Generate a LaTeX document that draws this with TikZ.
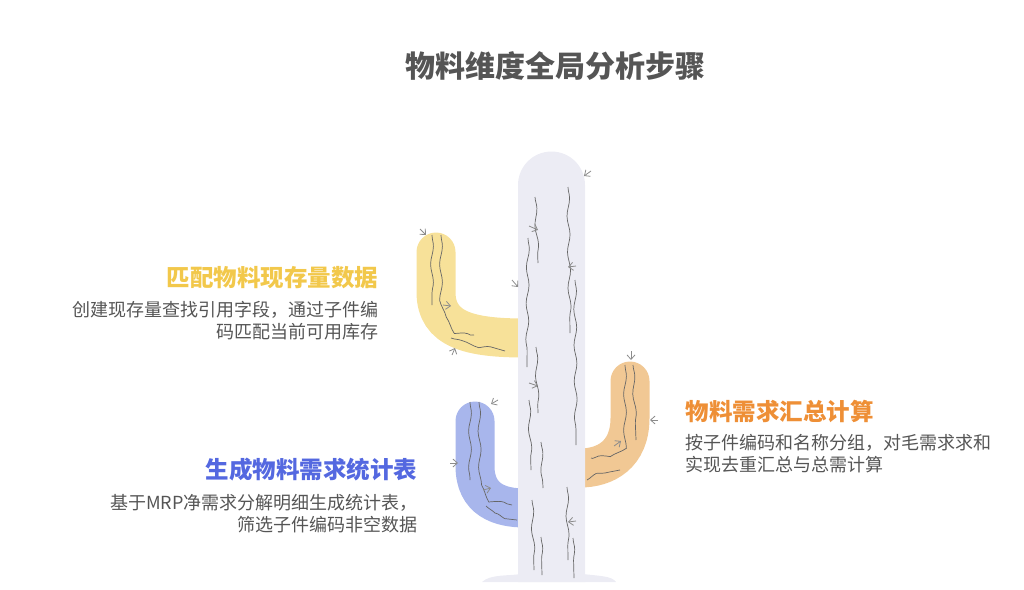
\documentclass[tikz,border=0pt]{standalone}
\usepackage{fontspec}
\setmainfont{Noto Sans CJK SC}
\usetikzlibrary{decorations.pathmorphing,arrows.meta}
\definecolor{cyel}{HTML}{F7E199}
\definecolor{cblu}{HTML}{A8B6EC}
\definecolor{cora}{HTML}{F1C894}
\definecolor{ctru}{HTML}{ECECF4}
\definecolor{tyel}{HTML}{F2C84B}
\definecolor{tblu}{HTML}{5468E0}
\definecolor{tora}{HTML}{EE8F36}
\definecolor{tgray}{HTML}{555555}
\begin{document}
\begin{tikzpicture}[x=1pt,y=-1pt,
  vein/.style={draw=gray!80!black,line width=0.7pt,decorate,decoration={snake,segment length=36pt,amplitude=1.4pt}},
  spike/.style={draw=gray!90,line width=0.8pt,-{Straight Barb[length=4.5pt,width=8pt]}},
  arm/.style={line width=39pt,line cap=round},
  ttl/.style={font=\fontsize{30}{34}\selectfont\bfseries,text=tgray},
  head/.style={font=\fontsize{23.5}{28}\selectfont\bfseries},
  body/.style={font=\fontsize{18}{22}\selectfont,text=tgray}]
\useasboundingbox (0,0) rectangle (1024,589);
% arms
\draw[arm,cyel] (436,252) -- (436,292) .. controls (436,330) and (470,338) .. (525,338);
\draw[arm,cblu] (475,421) -- (475,466) .. controls (475,500) and (500,508) .. (525,508);
\draw[arm,cora] (630,381) -- (630,418) .. controls (630,455) and (605,468) .. (580,468);
% trunk
\fill[ctru] (518,582) -- (518,185) arc[start angle=180,end angle=360,radius=33.5] -- (585,582) -- cycle;
\fill[ctru] (482,582) .. controls (490,574) and (510,576) .. (520,574) -- (583,574) .. controls (600,576) and (612,576) .. (616,582) -- cycle;
% trunk veins
\draw[vein] (535,197) -- (538,263);
\draw[vein] (528,238) -- (527,367);
\draw[vein] (568,187) -- (570,333);
\draw[vein] (575,280) -- (576,445);
\draw[vein] (536,347) -- (538,413);
\draw[vein] (529,400) -- (531,470);
\draw[vein] (541,442) -- (543,488);
\draw[vein] (532,500) -- (534,570);
\draw[vein] (541,537) -- (542,575);
\draw[vein] (567,487) -- (568,560);
\draw[vein] (573,538) -- (574,578);
% arm veins
\draw[vein] (432,235) -- (432,305);
\draw[vein] (441,235) -- (441,300) .. controls (445,318) and (458,330) .. (474,335);
\draw[vein] (451,338) .. controls (470,345) and (490,345) .. (505,351);
\draw[vein] (470,402) -- (470,480);
\draw[vein] (479,402) -- (480,470) .. controls (484,490) and (500,500) .. (512,505);
\draw[vein] (486,506) .. controls (495,515) and (505,518) .. (517,520);
\draw[vein] (625,365) -- (625,440) .. controls (615,450) and (600,456) .. (591,458);
\draw[vein] (633,365) -- (636,440);
\draw[vein] (587,480) .. controls (598,474) and (610,473) .. (620,470);
% spikes
\draw[spike] (591,171) -- (584,176);
\draw[spike] (529,226) -- (538,230);
\draw[spike] (512,280) -- (518,287);
\draw[spike] (576,266) -- (568,267);
\draw[spike] (529,383) -- (538,386);
\draw[spike] (576,521) -- (568,522);
\draw[spike] (420,229) -- (426,235);
\draw[spike] (443,305) -- (451,306);
\draw[spike] (452,355) -- (455,348);
\draw[spike] (498,400) -- (491,404);
\draw[spike] (450,463) -- (458,463);
\draw[spike] (483,490) -- (491,488);
\draw[spike] (631,351) -- (631,360);
\draw[spike] (658,420) -- (650,420);
\draw[spike] (614,446) -- (621,441);
% texts
\node[ttl] (title) at (555,66) {物料维度全局分析步骤};
\node[head,text=tyel,anchor=east] (h1) at (382,278) {匹配物料现存量数据};
\node[body,anchor=north east,align=right] (b1) at (382,298) {创建现存量查找引用字段，通过子件编\\码匹配当前可用库存};
\node[head,text=tblu,anchor=east] (h2) at (421,470) {生成物料需求统计表};
\node[body,anchor=north east,align=right] (b2) at (421,491) {基于MRP净需求分解明细生成统计表，\\筛选子件编码非空数据};
\node[head,text=tora,anchor=west] (h3) at (682,411) {物料需求汇总计算};
\node[body,anchor=north west,align=left] (b3) at (682,431) {按子件编码和名称分组，对毛需求求和\\实现去重汇总与总需计算};
\end{tikzpicture}
\end{document}
